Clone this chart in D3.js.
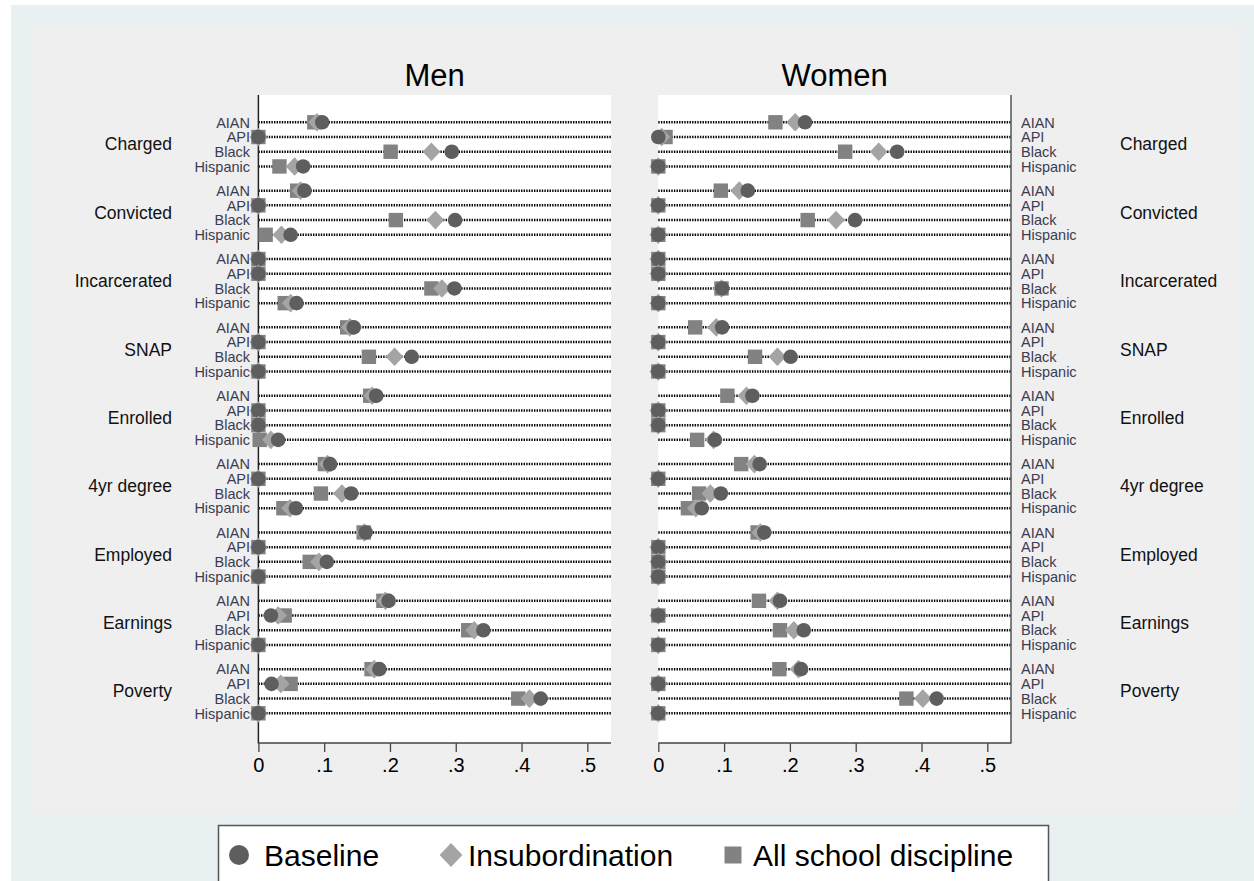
<!DOCTYPE html>
<html>
<head>
<meta charset="utf-8">
<script src="https://cdn.jsdelivr.net/npm/d3@7/dist/d3.min.js"></script>
<style>
  html, body { margin: 0; padding: 0; background: #ffffff; }
  svg { display: block; font-family: "Liberation Sans", Arial, sans-serif; }
</style>
</head>
<body>
<svg id="chart" width="1254" height="881"></svg>
<script>
// ---------------- data ----------------
const outcomes = ["Charged", "Convicted", "Incarcerated", "SNAP", "Enrolled", "4yr degree", "Employed", "Earnings", "Poverty"];
const groups = ["AIAN", "API", "Black", "Hispanic"];
const seriesNames = ["Baseline", "Insubordination", "All school discipline"];
const panelTitles = ["Men", "Women"];
const xTicks = [0, 0.1, 0.2, 0.3, 0.4, 0.5];
const xTickLabels = ["0", ".1", ".2", ".3", ".4", ".5"];

// Men: per outcome, rows AIAN, API, Black, Hispanic
const menBaseline = [
  [0.097, 0, 0.294, 0.068],
  [0.070, 0, 0.299, 0.049],
  [0, 0, 0.298, 0.058],
  [0.145, 0, 0.233, 0],
  [0.179, 0, 0, 0.030],
  [0.109, 0, 0.141, 0.057],
  [0.163, 0, 0.104, 0],
  [0.198, 0.019, 0.342, 0],
  [0.184, 0.020, 0.429, 0]
];
const menInsubordination = [
  [0.089, 0, 0.263, 0.055],
  [0.064, 0, 0.269, 0.035],
  [0, 0, 0.279, 0.049],
  [0.139, 0, 0.207, 0],
  [0.173, 0, 0, 0.019],
  [0.105, 0, 0.127, 0.048],
  [0.161, 0, 0.092, 0],
  [0.193, 0.030, 0.328, 0],
  [0.176, 0.034, 0.412, 0]
];
const menDiscipline = [
  [0.085, 0, 0.201, 0.032],
  [0.059, 0, 0.209, 0.011],
  [0, 0, 0.263, 0.040],
  [0.135, 0, 0.168, 0],
  [0.170, 0, 0, 0.002],
  [0.101, 0, 0.095, 0.038],
  [0.160, 0, 0.078, 0],
  [0.190, 0.040, 0.319, 0],
  [0.172, 0.049, 0.395, 0]
];
const womenBaseline = [
  [0.223, 0, 0.363, 0],
  [0.136, 0, 0.299, 0],
  [0, 0, 0.097, 0],
  [0.097, 0, 0.201, 0],
  [0.143, 0, 0, 0.086],
  [0.154, 0, 0.095, 0.066],
  [0.161, 0, 0, 0],
  [0.185, 0, 0.221, 0],
  [0.217, 0, 0.423, 0]
];
const womenInsubordination = [
  [0.208, 0.005, 0.335, 0],
  [0.123, 0, 0.270, 0],
  [0, 0, 0.096, 0],
  [0.088, 0, 0.181, 0],
  [0.134, 0, 0, 0.084],
  [0.146, 0, 0.079, 0.057],
  [0.155, 0, 0, 0],
  [0.181, 0, 0.206, 0],
  [0.213, 0, 0.402, 0]
];
const womenDiscipline = [
  [0.178, 0.011, 0.284, 0],
  [0.095, 0, 0.227, 0],
  [0, 0, 0.096, 0],
  [0.056, 0, 0.147, 0],
  [0.105, 0, 0, 0.059],
  [0.126, 0, 0.062, 0.045],
  [0.151, 0, 0, 0],
  [0.153, 0, 0.185, 0],
  [0.184, 0, 0.377, 0]
];

// ---------------- layout ----------------
const svg = d3.select("#chart");
const W = 1254, H = 881;

svg.append("rect").attr("x", 11).attr("y", 5).attr("width", W - 11).attr("height", H - 5).attr("fill", "#e8f0f2");
svg.append("rect").attr("x", 32).attr("y", 25).attr("width", 1239 - 32).attr("height", 813 - 25).attr("fill", "#efefef");

const panelTop = 95, panelBottom = 743;
const xDomain = [0, 0.536];
const panels = [
  { title: panelTitles[0], x0: 258.4, x1: 611, data: [menBaseline, menInsubordination, menDiscipline], side: "left" },
  { title: panelTitles[1], x0: 658.3, x1: 1011, data: [womenBaseline, womenInsubordination, womenDiscipline], side: "right" }
];

const G = 4.646; // group pitch in row units
const yScale = d3.scaleLinear().domain([0, (outcomes.length - 1) * G + 3]).range([122.3, 713.3]);
const rowPos = (g, r) => yScale(g * G + r);

const colors = { circle: "#5e5e5e", diamond: "#a4a4a4", square: "#828282" };
const symCircle = d3.symbol().type(d3.symbolCircle).size(Math.PI * 7.3 * 7.3);
const diamondPath = (s) => `M0,${-s}L${s * 0.95},0L0,${s}L${-s * 0.95},0Z`;

panels.forEach((p, pi) => {
  const x = d3.scaleLinear().domain(xDomain).range([p.x0, p.x1]);
  const g = svg.append("g");

  // plot region
  g.append("rect").attr("x", p.x0).attr("y", panelTop)
    .attr("width", p.x1 - p.x0).attr("height", panelBottom - panelTop).attr("fill", "#ffffff");

  // title
  g.append("text").attr("x", (p.x0 + p.x1) / 2).attr("y", 86)
    .attr("text-anchor", "middle").attr("font-size", 31).attr("fill", "#000").text(p.title);

  // dotted lines per row
  outcomes.forEach((o, oi) => {
    groups.forEach((gr, ri) => {
      g.append("line").attr("x1", x(0)).attr("x2", p.x1)
        .attr("y1", rowPos(oi, ri)).attr("y2", rowPos(oi, ri))
        .attr("stroke", "#000").attr("stroke-width", 2.5)
        .attr("stroke-dasharray", "1.4,1.2");
    });
  });

  // axes lines
  if (p.side === "left") {
    g.append("line").attr("x1", p.x0).attr("x2", p.x0).attr("y1", panelTop).attr("y2", panelBottom + 0.5)
      .attr("stroke", "#222").attr("stroke-width", 1.5);
  } else {
    g.append("line").attr("x1", p.x1).attr("x2", p.x1).attr("y1", panelTop).attr("y2", panelBottom + 0.5)
      .attr("stroke", "#555").attr("stroke-width", 1.5);
  }
  const xAxis = d3.axisBottom(x).tickValues(xTicks).tickFormat((d, i) => xTickLabels[i]).tickSize(9).tickPadding(6);
  const ax = g.append("g").attr("transform", `translate(0,${panelBottom})`).call(xAxis);
  ax.select(".domain").attr("stroke", "#444").attr("stroke-width", 1.5).attr("d", `M${p.x0},0H${p.x1}`);
  ax.selectAll(".tick line").attr("stroke", "#444").attr("stroke-width", 1.3);
  ax.selectAll(".tick text").attr("font-size", 20).attr("fill", "#000")
    .attr("font-family", "'Liberation Sans', Arial, sans-serif");

  // markers: square (bottom), diamond, circle (top)
  const [base, ins, dis] = p.data;
  outcomes.forEach((o, oi) => {
    groups.forEach((gr, ri) => {
      const cy = rowPos(oi, ri);
      g.append("rect").attr("x", x(dis[oi][ri]) - 7.2).attr("y", cy - 7.2)
        .attr("width", 14.4).attr("height", 14.4).attr("fill", colors.square);
      g.append("path").attr("d", diamondPath(9.3)).attr("transform", `translate(${x(ins[oi][ri])},${cy})`)
        .attr("fill", colors.diamond);
      g.append("path").attr("d", symCircle()).attr("transform", `translate(${x(base[oi][ri])},${cy})`)
        .attr("fill", colors.circle);
    });
  });

  // labels
  outcomes.forEach((o, oi) => {
    const cy = (rowPos(oi, 1) + rowPos(oi, 2)) / 2;
    if (p.side === "left") {
      g.append("text").attr("x", 172).attr("y", cy).attr("dy", "0.35em").attr("text-anchor", "end")
        .attr("font-size", 17.5).attr("fill", "#111").text(o);
    } else {
      g.append("text").attr("x", 1120).attr("y", cy).attr("dy", "0.35em").attr("text-anchor", "start")
        .attr("font-size", 17.5).attr("fill", "#111").text(o);
    }
    groups.forEach((gr, ri) => {
      const ry = rowPos(oi, ri);
      g.append("text")
        .attr("x", p.side === "left" ? 250 : 1021)
        .attr("y", ry).attr("dy", "0.36em")
        .attr("text-anchor", p.side === "left" ? "end" : "start")
        .attr("font-size", 14.5).attr("fill", "#3c3c50").text(gr);
    });
  });
});

// ---------------- legend ----------------
const leg = svg.append("g");
leg.append("rect").attr("x", 218.5).attr("y", 825.5).attr("width", 1048 - 218).attr("height", 70)
  .attr("fill", "#ffffff").attr("stroke", "#555").attr("stroke-width", 1.5);
const legY = 855;
const legItems = [
  { name: seriesNames[0], sym: "circle", mx: 239, tx: 264 },
  { name: seriesNames[1], sym: "diamond", mx: 451, tx: 468 },
  { name: seriesNames[2], sym: "square", mx: 733, tx: 753 }
];
legItems.forEach(it => {
  if (it.sym === "circle") {
    leg.append("circle").attr("cx", it.mx).attr("cy", legY).attr("r", 10).attr("fill", colors.circle);
  } else if (it.sym === "diamond") {
    leg.append("path").attr("d", diamondPath(12)).attr("transform", `translate(${it.mx},${legY})`).attr("fill", colors.diamond);
  } else {
    leg.append("rect").attr("x", it.mx - 8.5).attr("y", legY - 8.5).attr("width", 17).attr("height", 17).attr("fill", colors.square);
  }
  leg.append("text").attr("x", it.tx).attr("y", legY).attr("dy", "0.36em")
    .attr("font-size", 30).attr("fill", "#000").text(it.name);
});
</script>
</body>
</html>
